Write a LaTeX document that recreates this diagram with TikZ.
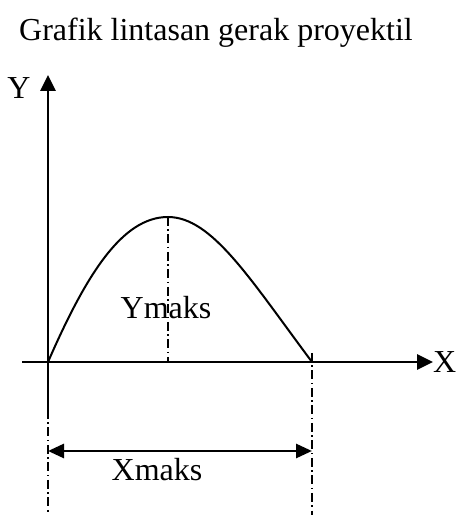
\documentclass[tikz,border=0pt]{standalone}
\usepackage{fontspec}
\setmainfont{Liberation Serif}
\usetikzlibrary{arrows.meta, positioning, calc}
\tikzset{
    axisline/.style={
        -{Triangle[length=16pt, width=15pt]},
        line width=2.8pt
    },
    pathline/.style={
        line width=2pt
    },
    guideline/.style={
        line width=1.8pt,
        dash pattern=on 9pt off 3.5pt on 1.5pt off 3.5pt
    },
    spanarrow/.style={
        {Triangle[length=16pt, width=14pt]}-{Triangle[length=16pt, width=14pt]},
        line width=2.8pt
    },
    lbl/.style={
        font=\fontsize{32pt}{36pt}\selectfont,
        inner sep=0pt
    }
}
\begin{document}
\begin{tikzpicture}[x=1pt, y=1pt]
    \useasboundingbox (0,0) rectangle (456,515);
    % axes
    \coordinate (O) at (48,153);
    \coordinate (ybot) at (48,105);
    \coordinate (ytop) at (48,440);
    \coordinate (xleft) at (22,153);
    \coordinate (xright) at (433,153);
    \node[lbl] (ylab) at (19,427) {Y};
    \node[lbl, anchor=west] (xlab) at (433,153) {X};
    \node[lbl] (title) at (216,482) {Grafik lintasan gerak proyektil};
    \draw[axisline] (ybot) -- (ytop);
    \draw[axisline] (xleft) -- (xright);
    % trajectory
    \coordinate (peak) at (168,298);
    \coordinate (land) at (312,153);
    \draw[pathline] (O) .. controls (86,240) and (122,298) .. (peak)
        .. controls (212,298) and (250,236) .. (land);
    % guides
    \coordinate (peakbase) at (168,153);
    \coordinate (landtop) at (312,162);
    \coordinate (landbot) at (312,0);
    \coordinate (obot) at (48,0);
    \draw[guideline] (peak) -- (peakbase);
    \draw[guideline] (landtop) -- (landbot);
    \draw[guideline] (ybot) -- (obot);
    \node[lbl] (ymaks) at (166,207) {Ymaks};
    % range
    \coordinate (spanl) at (48,64);
    \coordinate (spanr) at (312,64);
    \draw[spanarrow] (spanl) -- (spanr);
    \node[lbl] (xmaks) at (157,45) {Xmaks};
\end{tikzpicture}
\end{document}
